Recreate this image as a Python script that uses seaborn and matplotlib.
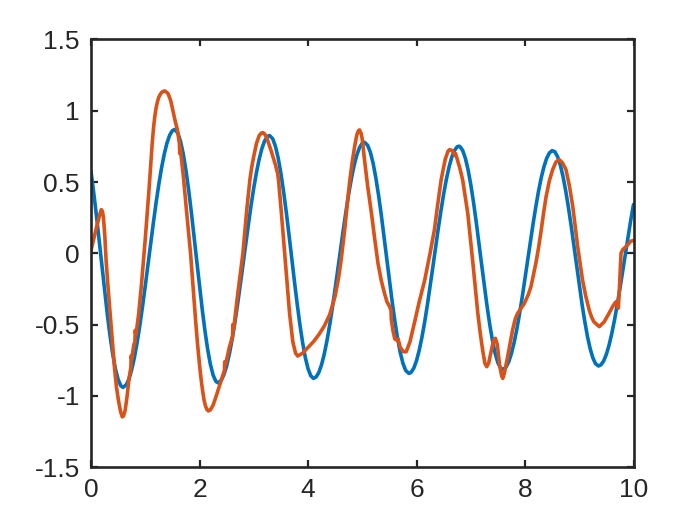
import matplotlib
matplotlib.use("Agg")
import matplotlib.pyplot as plt
import seaborn as sns

# blue trace, values
blue_x = [0.0, 0.05, 0.1, 0.15, 0.2, 0.25, 0.3, 0.35, 0.4, 0.45, 0.5, 0.55, 0.59, 0.65, 0.7, 0.75,
          0.8, 0.85, 0.9, 0.95, 1.0, 1.05, 1.1, 1.15, 1.2, 1.25, 1.3, 1.35, 1.4, 1.45, 1.5, 1.54,
          1.6, 1.65, 1.7, 1.75, 1.8, 1.85, 1.9, 1.95, 2.0, 2.05, 2.1, 2.15, 2.2, 2.25, 2.3, 2.34,
          2.4, 2.45, 2.5, 2.55, 2.6, 2.65, 2.7, 2.75, 2.8, 2.85, 2.9, 2.95, 3.0, 3.05, 3.1, 3.15,
          3.2, 3.25, 3.29, 3.35, 3.4, 3.45, 3.5, 3.55, 3.6, 3.65, 3.7, 3.75, 3.8, 3.85, 3.9, 3.95,
          4.0, 4.05, 4.1, 4.15, 4.2, 4.25, 4.3, 4.35, 4.4, 4.45, 4.5, 4.55, 4.6, 4.65, 4.7, 4.75,
          4.8, 4.85, 4.9, 4.95, 5.0, 5.04, 5.1, 5.15, 5.2, 5.25, 5.3, 5.35, 5.4, 5.45, 5.5, 5.55,
          5.6, 5.65, 5.7, 5.75, 5.8, 5.86, 5.9, 5.95, 6.0, 6.05, 6.1, 6.15, 6.2, 6.25, 6.3, 6.35,
          6.4, 6.45, 6.5, 6.55, 6.6, 6.65, 6.7, 6.75, 6.78, 6.8, 6.85, 6.9, 6.95, 7.0, 7.05, 7.1,
          7.15, 7.2, 7.25, 7.3, 7.35, 7.4, 7.45, 7.5, 7.55, 7.6, 7.65, 7.7, 7.75, 7.8, 7.85, 7.9,
          7.95, 8.0, 8.05, 8.1, 8.15, 8.2, 8.25, 8.3, 8.35, 8.4, 8.45, 8.5, 8.55, 8.6, 8.65, 8.7,
          8.75, 8.8, 8.85, 8.9, 8.95, 9.0, 9.05, 9.1, 9.15, 9.2, 9.25, 9.3, 9.356, 9.4, 9.45, 9.5,
          9.55, 9.6, 9.65, 9.7, 9.75, 9.8, 9.85, 9.9, 9.95, 10.0]
blue_y = [0.573, 0.426, 0.264, 0.091, -0.086, -0.261, -0.425, -0.576, -0.706, -0.810, -0.885, -0.929,
          -0.940, -0.922, -0.881, -0.816, -0.731, -0.626, -0.506, -0.372, -0.229, -0.080, 0.068,
          0.215, 0.355, 0.484, 0.598, 0.695, 0.773, 0.828, 0.860, 0.868,
          0.844, 0.786, 0.698, 0.583, 0.444, 0.287, 0.119, -0.055, -0.227, -0.392, -0.542, -0.672,
          -0.777, -0.853, -0.897, -0.908,
          -0.891, -0.851, -0.790, -0.707, -0.607, -0.491, -0.363, -0.226, -0.083, 0.059, 0.199,
          0.334, 0.458, 0.567, 0.660, 0.735, 0.788, 0.818, 0.826,
          0.803, 0.750, 0.669, 0.562, 0.433, 0.287, 0.130, -0.034, -0.197, -0.353, -0.498, -0.624,
          -0.730, -0.808, -0.858, -0.877,
          -0.867, -0.835, -0.781, -0.706, -0.612, -0.502, -0.380, -0.249, -0.111, 0.028, 0.164,
          0.294, 0.416, 0.524, 0.616, 0.689, 0.742, 0.772, 0.779,
          0.757, 0.708, 0.632, 0.530, 0.409, 0.272, 0.123, -0.032, -0.186, -0.335, -0.472, -0.594,
          -0.695, -0.771, -0.821, -0.842,
          -0.835, -0.805, -0.753, -0.680, -0.589, -0.483, -0.363, -0.234, -0.100, 0.036, 0.170,
          0.296, 0.414, 0.518, 0.605, 0.674, 0.721, 0.747, 0.751,
          0.749, 0.722, 0.668, 0.587, 0.483, 0.360, 0.222, 0.075, -0.077, -0.226, -0.369, -0.499,
          -0.611, -0.702, -0.767, -0.805, -0.814,
          -0.798, -0.761, -0.702, -0.625, -0.531, -0.422, -0.304, -0.178, -0.047, 0.084, 0.210,
          0.328, 0.437, 0.531, 0.608, 0.667, 0.704, 0.720,
          0.712, 0.678, 0.620, 0.540, 0.439, 0.323, 0.195, 0.057, -0.082, -0.221, -0.353, -0.473,
          -0.580, -0.667, -0.732, -0.774, -0.790,
          -0.782, -0.755, -0.708, -0.643, -0.562, -0.467, -0.360, -0.247, -0.126, -0.004, 0.118,
          0.234, 0.342]

# orange trace, values (incl. the small glitches)
orange_x = [0.0, 0.05, 0.1, 0.15, 0.175, 0.19, 0.21, 0.23, 0.255, 0.28, 0.325, 0.375, 0.435, 0.47,
            0.51, 0.545, 0.577, 0.60, 0.63, 0.668, 0.70, 0.735, 0.74, 0.75, 0.79, 0.81, 0.815, 0.83,
            0.88, 0.93, 1.0, 1.07, 1.13, 1.155, 1.18, 1.20, 1.22, 1.245, 1.27, 1.295, 1.32, 1.345,
            1.37, 1.42, 1.47, 1.51, 1.55, 1.59, 1.63, 1.635, 1.645, 1.66, 1.70, 1.76, 1.835, 1.88,
            1.93, 1.965, 2.0, 2.03, 2.06, 2.085, 2.11, 2.14, 2.166, 2.20, 2.25, 2.30, 2.35, 2.40,
            2.46, 2.465, 2.48, 2.55, 2.61, 2.615, 2.63, 2.70, 2.80, 2.87, 2.93, 2.965, 3.0, 3.05,
            3.10, 3.135, 3.17, 3.205, 3.24, 3.32, 3.40, 3.44, 3.455, 3.51, 3.58, 3.66, 3.72, 3.77,
            3.81, 3.9, 4.0, 4.1, 4.2, 4.3, 4.4, 4.5, 4.56, 4.61, 4.675, 4.72, 4.77, 4.815, 4.86,
            4.90, 4.93, 4.95, 4.98, 5.0, 5.04, 5.1, 5.17, 5.23, 5.29, 5.35, 5.41, 5.455, 5.50, 5.53,
            5.535, 5.565, 5.60, 5.64, 5.66, 5.70, 5.76, 5.81, 5.88, 5.96, 6.05, 6.15, 6.25, 6.33,
            6.39, 6.455, 6.53, 6.58, 6.61, 6.66, 6.70, 6.72, 6.75, 6.80, 6.85, 6.945, 7.04, 7.13,
            7.175, 7.22, 7.26, 7.295, 7.33, 7.38, 7.42, 7.455, 7.49, 7.53, 7.57, 7.59, 7.62, 7.68,
            7.77, 7.82, 7.865, 7.99, 8.06, 8.11, 8.20, 8.25, 8.30, 8.345, 8.39, 8.45, 8.51, 8.57,
            8.63, 8.69, 8.755, 8.82, 8.88, 8.97, 9.06, 9.12, 9.185, 9.23, 9.27, 9.37, 9.46, 9.55,
            9.62, 9.675, 9.72, 9.74, 9.77, 9.80, 9.87, 9.95, 10.0]
orange_y = [0.02, 0.10, 0.18, 0.255, 0.29, 0.306, 0.295, 0.25, 0.12, -0.06, -0.29, -0.53, -0.81, -0.94,
            -1.04, -1.11, -1.147, -1.14, -1.10, -0.994, -0.88, -0.80, -0.72, -0.74, -0.64, -0.62,
            -0.54, -0.57, -0.42, -0.22, 0.10, 0.45, 0.78, 0.89, 0.97, 1.02, 1.055, 1.09, 1.11, 1.125,
            1.133, 1.138, 1.137, 1.12, 1.07, 1.0, 0.93, 0.87, 0.77, 0.70, 0.74, 0.69, 0.55, 0.30,
            0.0, -0.23, -0.48, -0.64, -0.78, -0.885, -0.97, -1.03, -1.07, -1.097, -1.105, -1.098,
            -1.065, -1.01, -0.95, -0.89, -0.82, -0.76, -0.78, -0.66, -0.58, -0.50, -0.53, -0.30,
            0.0, 0.30, 0.52, 0.61, 0.68, 0.77, 0.825, 0.842, 0.846, 0.835, 0.81, 0.72, 0.62, 0.56,
            0.52, 0.28, -0.05, -0.42, -0.62, -0.70, -0.72, -0.70, -0.66, -0.62, -0.57, -0.51, -0.43,
            -0.30, -0.18, -0.05, 0.16, 0.33, 0.51, 0.64, 0.75, 0.83, 0.86, 0.865, 0.84, 0.80, 0.66,
            0.47, 0.28, 0.10, -0.07, -0.19, -0.28, -0.34, -0.37, -0.40, -0.46, -0.54, -0.60, -0.61,
            -0.60, -0.66, -0.69, -0.69, -0.62, -0.49, -0.34, -0.19, 0.0, 0.165, 0.34, 0.517, 0.66,
            0.715, 0.727, 0.72, 0.69, 0.70, 0.66, 0.595, 0.517, 0.28, -0.07, -0.42, -0.56, -0.68,
            -0.77, -0.795, -0.77, -0.68, -0.61, -0.596, -0.64, -0.78, -0.86, -0.877, -0.84, -0.725,
            -0.54, -0.46, -0.42, -0.35, -0.29, -0.233, -0.07, 0.04, 0.165, 0.29, 0.40, 0.51, 0.587,
            0.64, 0.657, 0.635, 0.587, 0.47, 0.33, 0.05, -0.186, -0.30, -0.40, -0.45, -0.48, -0.514,
            -0.48, -0.42, -0.37, -0.34, -0.385, -0.25, 0.0, 0.025, 0.05, 0.085, 0.09]

x_ticks = [0, 2, 4, 6, 8, 10]
y_ticks = [-1.5, -1, -0.5, 0, 0.5, 1, 1.5]
y_tick_labels = ["-1.5", "-1", "-0.5", "0", "0.5", "1", "1.5"]

BLUE = "#0072BD"
ORANGE = "#D95319"
INK = "#262626"

sns.set_style("ticks")
plt.rcParams["font.family"] = ["Liberation Sans", "DejaVu Sans"]

fig = plt.figure(figsize=(7, 5.25), dpi=100)
ax = fig.add_axes([0.13, 0.11, 0.775, 0.815])

line_kw = dict(linewidth=2.6, sort=False, estimator=None,
               solid_joinstyle="round", solid_capstyle="round")
sns.lineplot(x=blue_x, y=blue_y, ax=ax, color=BLUE, **line_kw)
sns.lineplot(x=orange_x, y=orange_y, ax=ax, color=ORANGE, **line_kw)

ax.set_xlim(0, 10)
ax.set_ylim(-1.5, 1.5)
ax.set_xticks(x_ticks)
ax.set_xticklabels([str(t) for t in x_ticks])
ax.set_yticks(y_ticks)
ax.set_yticklabels(y_tick_labels)
ax.tick_params(direction="in", length=5, width=1.6, colors=INK, labelsize=19,
               top=True, right=True, pad=8)
for s in ax.spines.values():
    s.set_visible(True)
    s.set_color(INK)
    s.set_linewidth(1.9)
ax.set_xlabel("")
ax.set_ylabel("")

fig.savefig("out.png", dpi=100)
